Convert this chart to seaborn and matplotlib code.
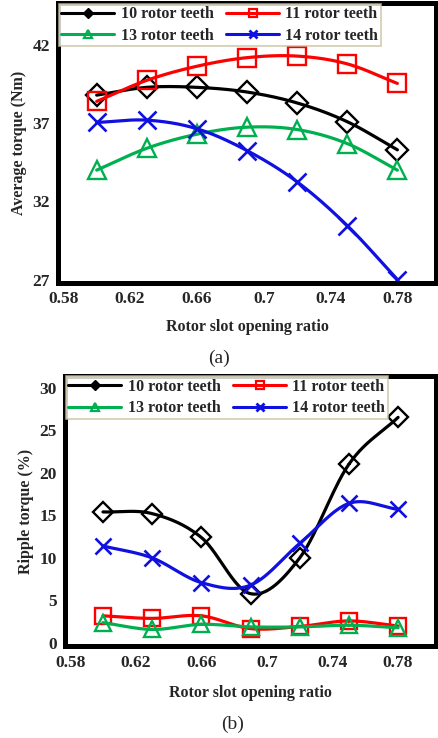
import numpy as np
import pandas as pd
import matplotlib
matplotlib.use("Agg")
import matplotlib.pyplot as plt
from matplotlib.lines import Line2D
import seaborn as sns

# data
ratio = [0.60, 0.63, 0.66, 0.69, 0.72, 0.75, 0.78]
series = ["10 rotor teeth", "11 rotor teeth", "13 rotor teeth", "14 rotor teeth"]

avg_10 = [38.8, 39.3, 39.3, 39.0, 38.3, 37.1, 35.3]
avg_11 = [38.4, 39.75, 40.65, 41.2, 41.3, 40.8, 39.55]
avg_13 = [34.0, 35.4, 36.3, 36.75, 36.6, 35.7, 34.0]
avg_14 = [37.05, 37.2, 36.65, 35.25, 33.25, 30.45, 27.0]

rip_10 = [15.4, 15.2, 12.4, 5.8, 10.0, 21.0, 26.5]
rip_11 = [3.2, 2.9, 3.2, 1.7, 1.95, 2.6, 2.0]
rip_13 = [2.4, 1.6, 2.2, 1.9, 1.9, 2.1, 1.8]
rip_14 = [11.4, 10.0, 7.1, 6.8, 11.7, 16.4, 15.7]

xticks = [0.58, 0.62, 0.66, 0.70, 0.74, 0.78]
xtick_labels = ["0.58", "0.62", "0.66", "0.7", "0.74", "0.78"]
avg_ticks = [27, 32, 37, 42]
rip_ticks = [0, 5, 10, 15, 20, 25, 30]

colors = ["black", "#ff0000", "#00b050", "#1010e0"]
markers = ["D", "s", "^", "x"]

sns.set_theme(style="white")
plt.rcParams["font.family"] = ["Liberation Serif", "DejaVu Serif"]
plt.rcParams["font.weight"] = "bold"


def smooth(x, y, n=30):
    # catmull-rom curve through the points, like excel's smoothed line
    x = np.asarray(x, float)
    y = np.asarray(y, float)
    px = np.concatenate([[2 * x[0] - x[1]], x, [2 * x[-1] - x[-2]]])
    py = np.concatenate([[2 * y[0] - y[1]], y, [2 * y[-1] - y[-2]]])
    t = np.linspace(0, 1, n)
    xs, ys = [], []
    for i in range(1, len(px) - 2):
        for p, out in ((px, xs), (py, ys)):
            p0, p1, p2, p3 = p[i - 1], p[i], p[i + 1], p[i + 2]
            out.extend(0.5 * ((2 * p1) + (-p0 + p2) * t
                              + (2 * p0 - 5 * p1 + 4 * p2 - p3) * t ** 2
                              + (-p0 + 3 * p1 - 3 * p2 + p3) * t ** 3))
    return np.array(xs), np.array(ys)


def panel(ax, values, ylim, yticks, ylabel, msizes, xpad):
    for name, vals, c, m, ms in zip(series, values, colors, markers, msizes):
        sx, sy = smooth(ratio, vals)
        sns.lineplot(x=sx, y=sy, sort=False, color=c, lw=2.3, ax=ax)
        if m == "x":
            ax.plot(ratio, vals, ls="none", marker=m, ms=ms, mew=1.9, color=c)
        else:
            ax.plot(ratio, vals, ls="none", marker=m, ms=ms, mew=1.7,
                    mfc="none", mec=c)
    ax.set_xlim(0.577, 0.803)
    ax.set_ylim(*ylim)
    ax.set_xticks(xticks)
    ax.set_xticklabels(xtick_labels)
    ax.set_yticks(yticks)
    ax.tick_params(length=0, labelsize=12.5, pad=6)
    for lab in ax.get_xticklabels() + ax.get_yticklabels():
        lab.set_fontweight("bold")
    for sp in ax.spines.values():
        sp.set_linewidth(3.6)
        sp.set_color("black")
    ax.set_xlabel("Rotor slot opening ratio", fontsize=11.5, fontweight="bold", labelpad=xpad)
    ax.set_ylabel(ylabel, fontsize=11.5, fontweight="bold", labelpad=4)
    handles = []
    for name, c, m in zip(series, colors, markers):
        if m == "D":
            h = Line2D([], [], color=c, lw=2.2, marker=m, ms=5, mfc=c)
        elif m == "x":
            h = Line2D([], [], color=c, lw=2.2, marker=m, ms=6, mew=2)
        else:
            h = Line2D([], [], color=c, lw=2.2, marker=m, ms=6, mew=1.6, mfc="none")
        handles.append(h)
    # two columns filled column-wise: 10 / 13 then 11 / 14
    order = [0, 2, 1, 3]
    leg = ax.legend([handles[i] for i in order], [series[i] for i in order],
                    ncol=2, loc="upper left",
                    bbox_to_anchor=(0.0, 1.0), frameon=True, fancybox=False,
                    fontsize=11.5, handlelength=3.3, handletextpad=0.4,
                    columnspacing=0.8, borderpad=0.15, labelspacing=0.35,
                    borderaxespad=0.05)
    leg.get_frame().set_edgecolor("#c8bf9c")
    leg.get_frame().set_linewidth(1.2)
    for t in leg.get_texts():
        t.set_fontweight("bold")
    return ax


fig = plt.figure(figsize=(4.38, 7.38), dpi=100)
ax1 = fig.add_axes([0.133, 0.617, 0.862, 0.379])
ax2 = fig.add_axes([0.149, 0.124, 0.846, 0.367])

panel(ax1, [avg_10, avg_11, avg_13, avg_14], (26.8, 44.7), avg_ticks,
      "Average torque (Nm)", [11, 13, 13, 13], 9)
panel(ax2, [rip_10, rip_11, rip_13, rip_14], (-0.4, 31.4), rip_ticks,
      "Ripple torque (%)", [10, 12, 12, 12], 10)

fig.text(0.5, 0.515, "(a)", ha="center", va="center", fontsize=14, fontweight="normal")
fig.text(0.53, 0.018, "(b)", ha="center", va="center", fontsize=14, fontweight="normal")

fig.savefig("out.png", dpi=100)
